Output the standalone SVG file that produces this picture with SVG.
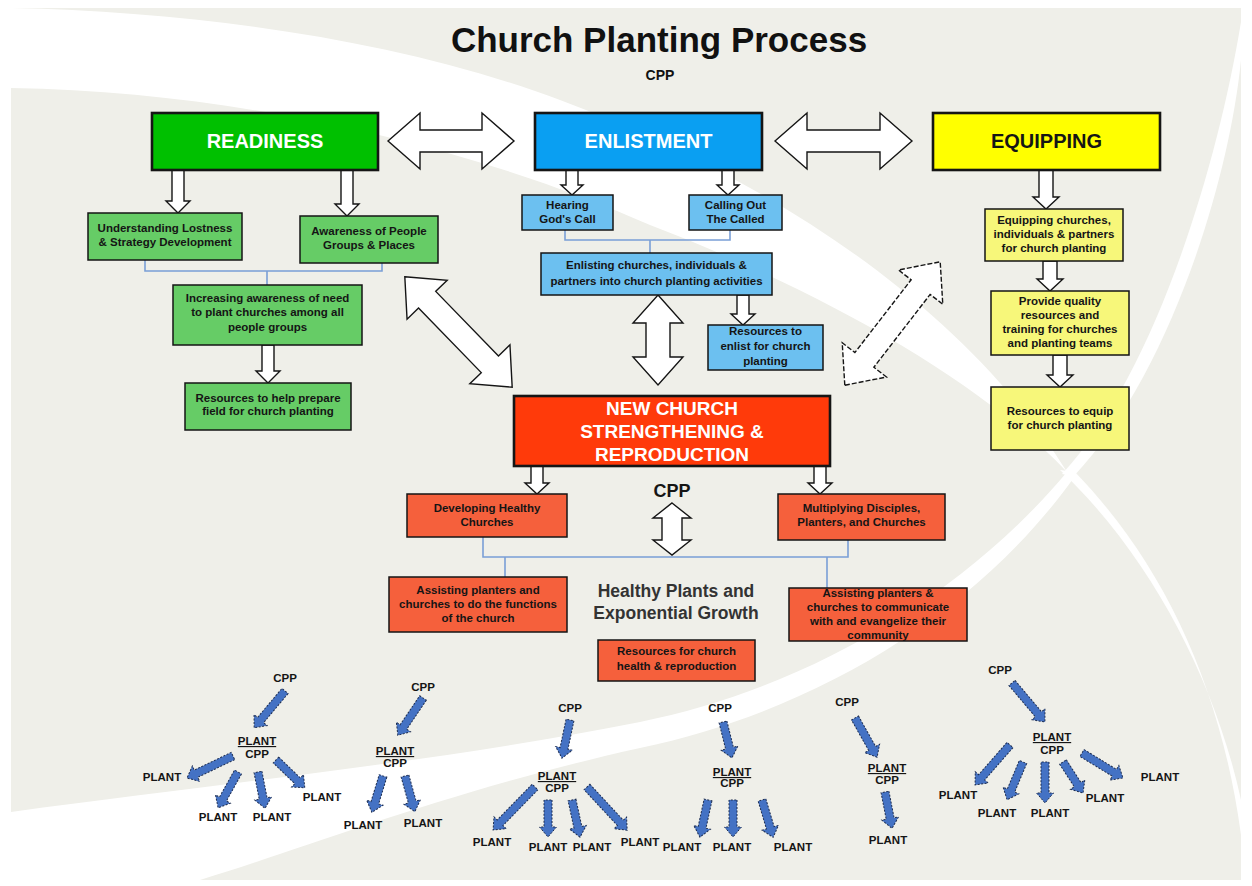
<svg xmlns="http://www.w3.org/2000/svg" width="1252" height="886" viewBox="0 0 1252 886">
<defs>
<style>
text{font-family:"Liberation Sans",Arial,sans-serif;text-anchor:middle}
.ttl{font-size:35px;font-weight:bold;fill:#111}
.sub{font-size:14px;font-weight:bold;fill:#111}
.mb{stroke:#151515;stroke-width:2.6}
.sb{stroke:#151515;stroke-width:1.5}
.mt{font-size:20px;font-weight:bold;fill:#fff}
.t{font-size:11.5px;font-weight:bold;fill:#151515}
.wa{fill:#fff;stroke:#151515;stroke-width:1.4;stroke-linejoin:miter}
.ba{fill:#4472c4;stroke:#1d2d50;stroke-width:1;stroke-dasharray:2 1.5}
.br{fill:none;stroke:#7a9fd6;stroke-width:1.6}
.lb{font-size:11.5px;font-weight:bold;fill:#151515}
.g1{fill:#00c000}.g2{fill:#66cc66}
.b1{fill:#0a9ff2}.b2{fill:#6cc0f0}
.y1{fill:#ffff00}.y2{fill:#f7f77a}
.r1{fill:#ff3a0a}.r2{fill:#f5603c}
</style>
</defs>
<rect width="1252" height="886" fill="#fff"/>
<rect x="11" y="8" width="1230" height="872" fill="#efefe9"/>
<g id="background" fill="#fff">
<path d="M11,8 C200,12 400,40 560,100 C760,175 960,300 1067,472 C980,380 820,290 650,225 C480,150 250,92 11,88 Z"/>
<path d="M1060,470 C1150,555 1215,680 1241,800 L1241,835 C1220,680 1160,560 1075,472 Z"/>
<path d="M1241,22 C1215,180 1150,380 1062,474 L1074,476 C1165,380 1228,190 1241,60 Z"/>
<path d="M1067,472 C960,600 800,690 640,722 C450,760 250,780 11,812 L11,880 L200,880 C300,850 450,790 640,748 C820,710 980,610 1075,476 Z"/>
</g>
<g id="title">
<text class="ttl" x="659" y="52">Church Planting Process</text>
<text class="sub" x="660" y="80">CPP</text>
</g>
<g id="connectors">
<polygon class="wa" points="388,141 420,113 420,130 482,130 482,113 514,141 482,169 482,152 420,152 420,169"/>
<polygon class="wa" points="775,141 807,113 807,130 880,130 880,113 912,141 880,169 880,152 807,152 807,169"/>
<polygon class="wa" points="172,170 184,170 184,201 190,201 178,213 166,201 172,201"/>
<polygon class="wa" points="341,170 353,170 353,204 359,204 347,216 335,204 341,204"/>
<polygon class="wa" points="262,345 274,345 274,371 280,371 268,383 256,371 262,371"/>
<polygon class="wa" points="566,170 578,170 578,185 583,185 572,195 561,185 566,185"/>
<polygon class="wa" points="722,170 734,170 734,185 739,185 728,195 717,185 722,185"/>
<polygon class="wa" points="737,295 749,295 749,314 755,314 743,325 731,314 737,314"/>
<polygon class="wa" points="1039,170 1053,170 1053,197 1059,197 1046,209 1033,197 1039,197"/>
<polygon class="wa" points="1043,261 1057,261 1057,279 1063,279 1050,291 1037,279 1043,279"/>
<polygon class="wa" points="1053,355 1067,355 1067,375 1073,375 1060,387 1047,375 1053,375"/>
<polygon class="wa" points="531,466 543,466 543,483 549,483 537,494 525,483 531,483"/>
<polygon class="wa" points="814,466 826,466 826,483 832,483 820,494 808,483 814,483"/>
<polygon class="wa" points="658,295 683,323 670,323 670,357 683,357 658,385 633,357 646,357 646,323 633,323"/>
<polygon class="wa" points="672,503 691,518 682,518 682,540 691,540 672,555 653,540 662,540 662,518 653,518"/>
<polygon class="wa" transform="translate(458.5,332) rotate(45.8)" points="-77,0 -45,-28 -45,-12 45,-12 45,-28 77,0 45,28 45,12 -45,12 -45,28"/>
<polygon class="wa" transform="translate(892.5,323.5) rotate(-52.3)" points="-78,0 -46,-28 -46,-12 46,-12 46,-28 78,0 46,28 46,12 -46,12 -46,28" stroke-dasharray="5 2"/>
<path class="br" d="M145,260 V271 H382 V263 M267,271 V285"/>
<path class="br" d="M565,230 V240 H730 V230 M650,240 V253"/>
<path class="br" d="M483,537 V557 H848 V540 M505,557 V577 M827,557 V588"/>
<polygon class="ba" transform="translate(285,691) rotate(130)" points="0,-4 38,-4 38,-8.5 48,0 38,8.5 38,4 0,4"/>
<polygon class="ba" transform="translate(233,756) rotate(154.4)" points="0,-4 41,-4 41,-8.5 51,0 41,8.5 41,4 0,4"/>
<polygon class="ba" transform="translate(238,772) rotate(119.1)" points="0,-4 31,-4 31,-8.5 41,0 31,8.5 31,4 0,4"/>
<polygon class="ba" transform="translate(258,772) rotate(79)" points="0,-4 27,-4 27,-8.5 37,0 27,8.5 27,4 0,4"/>
<polygon class="ba" transform="translate(276,760) rotate(44)" points="0,-4 30,-4 30,-8.5 40,0 30,8.5 30,4 0,4"/>
<polygon class="ba" transform="translate(423,698) rotate(124)" points="0,-4 35,-4 35,-8.5 45,0 35,8.5 35,4 0,4"/>
<polygon class="ba" transform="translate(383,776) rotate(107)" points="0,-4 28,-4 28,-8.5 38,0 28,8.5 28,4 0,4"/>
<polygon class="ba" transform="translate(405,776) rotate(74.5)" points="0,-4 27,-4 27,-8.5 37,0 27,8.5 27,4 0,4"/>
<polygon class="ba" transform="translate(570,720) rotate(101.9)" points="0,-4 29,-4 29,-8.5 39,0 29,8.5 29,4 0,4"/>
<polygon class="ba" transform="translate(535,787) rotate(134.3)" points="0,-4 50,-4 50,-8.5 60,0 50,8.5 50,4 0,4"/>
<polygon class="ba" transform="translate(548,800) rotate(90)" points="0,-4 27,-4 27,-8.5 37,0 27,8.5 27,4 0,4"/>
<polygon class="ba" transform="translate(572,800) rotate(77.8)" points="0,-4 28,-4 28,-8.5 38,0 28,8.5 28,4 0,4"/>
<polygon class="ba" transform="translate(587,787) rotate(47.1)" points="0,-4 49,-4 49,-8.5 59,0 49,8.5 49,4 0,4"/>
<polygon class="ba" transform="translate(723,722) rotate(76)" points="0,-4 27,-4 27,-8.5 37,0 27,8.5 27,4 0,4"/>
<polygon class="ba" transform="translate(708,800) rotate(102.2)" points="0,-4 28,-4 28,-8.5 38,0 28,8.5 28,4 0,4"/>
<polygon class="ba" transform="translate(733,800) rotate(90)" points="0,-4 27,-4 27,-8.5 37,0 27,8.5 27,4 0,4"/>
<polygon class="ba" transform="translate(762,800) rotate(73.4)" points="0,-4 29,-4 29,-8.5 39,0 29,8.5 29,4 0,4"/>
<polygon class="ba" transform="translate(855,718) rotate(60.6)" points="0,-4 35,-4 35,-8.5 45,0 35,8.5 35,4 0,4"/>
<polygon class="ba" transform="translate(885,792) rotate(79)" points="0,-4 27,-4 27,-8.5 37,0 27,8.5 27,4 0,4"/>
<polygon class="ba" transform="translate(1012,683) rotate(49.8)" points="0,-4 41,-4 41,-8.5 51,0 41,8.5 41,4 0,4"/>
<polygon class="ba" transform="translate(1010,745) rotate(131.2)" points="0,-4 43,-4 43,-8.5 53,0 43,8.5 43,4 0,4"/>
<polygon class="ba" transform="translate(1023,762) rotate(112.8)" points="0,-4 31,-4 31,-8.5 41,0 31,8.5 31,4 0,4"/>
<polygon class="ba" transform="translate(1045,762) rotate(90)" points="0,-4 31,-4 31,-8.5 41,0 31,8.5 31,4 0,4"/>
<polygon class="ba" transform="translate(1063,762) rotate(57.2)" points="0,-4 27,-4 27,-8.5 37,0 27,8.5 27,4 0,4"/>
<polygon class="ba" transform="translate(1082,753) rotate(31.4)" points="0,-4 38,-4 38,-8.5 48,0 38,8.5 38,4 0,4"/>
</g>
<g id="readiness"><rect class="mb g1" x="152" y="113" width="226" height="57"/><text class="mt" x="265" y="148">READINESS</text></g>
<g id="enlistment"><rect class="mb b1" x="535" y="113" width="227" height="57"/><text class="mt" x="648.5" y="148">ENLISTMENT</text></g>
<g id="equipping"><rect class="mb y1" x="933" y="113" width="227" height="57"/><text class="mt" x="1046.5" y="148" style="fill:#151515">EQUIPPING</text></g>
<g id="r-lostness"><rect class="sb g2" x="88" y="213" width="154" height="47"/><text class="t" x="165" y="232">Understanding Lostness</text><text class="t" x="165" y="246">&amp; Strategy Development</text></g>
<g id="r-awareness"><rect class="sb g2" x="300" y="216" width="138" height="47"/><text class="t" x="369" y="235">Awareness of People</text><text class="t" x="369" y="249">Groups &amp; Places</text></g>
<g id="r-increasing"><rect class="sb g2" x="173" y="285" width="189" height="60"/><text class="t" x="267.5" y="302">Increasing awareness of need</text><text class="t" x="267.5" y="316">to plant churches among all</text><text class="t" x="267.5" y="331">people groups</text></g>
<g id="r-resources"><rect class="sb g2" x="185" y="383" width="166" height="47"/><text class="t" x="268" y="402">Resources to help prepare</text><text class="t" x="268" y="415">field for church planting</text></g>
<g id="e-hearing"><rect class="sb b2" x="522" y="195" width="91" height="35"/><text class="t" x="567.5" y="209">Hearing</text><text class="t" x="567.5" y="223">God's Call</text></g>
<g id="e-calling"><rect class="sb b2" x="689" y="195" width="93" height="35"/><text class="t" x="735.5" y="209">Calling Out</text><text class="t" x="735.5" y="223">The Called</text></g>
<g id="e-enlisting"><rect class="sb b2" x="541" y="253" width="231" height="42"/><text class="t" x="656.5" y="269">Enlisting churches, individuals &amp;</text><text class="t" x="656.5" y="285">partners into church planting activities</text></g>
<g id="e-resources"><rect class="sb b2" x="708" y="325" width="115" height="45"/><text class="t" x="765.5" y="335">Resources to</text><text class="t" x="765.5" y="350">enlist for church</text><text class="t" x="765.5" y="365">planting</text></g>
<g id="q-equipping"><rect class="sb y2" x="985" y="209" width="138" height="52"/><text class="t" x="1054" y="224">Equipping churches,</text><text class="t" x="1054" y="238">individuals &amp; partners</text><text class="t" x="1054" y="252">for church planting</text></g>
<g id="q-provide"><rect class="sb y2" x="991" y="291" width="138" height="64"/><text class="t" x="1060" y="305">Provide quality</text><text class="t" x="1060" y="319">resources and</text><text class="t" x="1060" y="333">training for churches</text><text class="t" x="1060" y="347">and planting teams</text></g>
<g id="q-resources"><rect class="sb y2" x="991" y="387" width="138" height="63"/><text class="t" x="1060" y="415">Resources to equip</text><text class="t" x="1060" y="429">for church planting</text></g>
<g id="new-church"><rect class="mb r1" x="514" y="396" width="316" height="70"/><text class="mt" x="672" y="415" style="font-size:19px">NEW CHURCH</text><text class="mt" x="672" y="438" style="font-size:19px">STRENGTHENING &amp;</text><text class="mt" x="672" y="461" style="font-size:19px">REPRODUCTION</text></g>
<g id="cpp-center"><text x="672" y="497" style="font-size:18px;font-weight:bold;fill:#151515">CPP</text></g>
<g id="n-developing"><rect class="sb r2" x="407" y="494" width="160" height="43"/><text class="t" x="487" y="512">Developing Healthy</text><text class="t" x="487" y="526">Churches</text></g>
<g id="n-multiplying"><rect class="sb r2" x="778" y="494" width="167" height="46"/><text class="t" x="861.5" y="512">Multiplying Disciples,</text><text class="t" x="861.5" y="526">Planters, and Churches</text></g>
<g id="n-functions"><rect class="sb r2" x="389" y="577" width="178" height="55"/><text class="t" x="478" y="594">Assisting planters and</text><text class="t" x="478" y="608">churches to do the functions</text><text class="t" x="478" y="622">of the church</text></g>
<g id="n-communicate"><rect class="sb r2" x="789" y="588" width="178" height="53"/><text class="t" x="878" y="597">Assisting planters &amp;</text><text class="t" x="878" y="611">churches to communicate</text><text class="t" x="878" y="625">with and evangelize their</text><text class="t" x="878" y="639">community</text></g>
<g id="healthy-plants"><text x="676" y="597" style="font-size:17.5px;font-weight:bold;fill:#333">Healthy Plants and</text><text x="676" y="619" style="font-size:17.5px;font-weight:bold;fill:#333">Exponential Growth</text></g>
<g id="n-resources"><rect class="sb r2" x="598" y="640" width="157" height="41"/><text class="t" x="676.5" y="655">Resources for church</text><text class="t" x="676.5" y="670">health &amp; reproduction</text></g>
<g id="tree1">
<text class="lb" x="285" y="682">CPP</text>
<text class="lb" x="257" y="745" text-decoration="underline">PLANT</text>
<text class="lb" x="257" y="758">CPP</text>
<text class="lb" x="162" y="781">PLANT</text>
<text class="lb" x="218" y="821">PLANT</text>
<text class="lb" x="272" y="821">PLANT</text>
<text class="lb" x="322" y="801">PLANT</text>
</g>
<g id="tree2">
<text class="lb" x="423" y="691">CPP</text>
<text class="lb" x="395" y="755" text-decoration="underline">PLANT</text>
<text class="lb" x="395" y="767">CPP</text>
<text class="lb" x="363" y="829">PLANT</text>
<text class="lb" x="423" y="827">PLANT</text>
</g>
<g id="tree3">
<text class="lb" x="570" y="712">CPP</text>
<text class="lb" x="557" y="780" text-decoration="underline">PLANT</text>
<text class="lb" x="557" y="792">CPP</text>
<text class="lb" x="492" y="846">PLANT</text>
<text class="lb" x="548" y="851">PLANT</text>
<text class="lb" x="592" y="851">PLANT</text>
<text class="lb" x="640" y="846">PLANT</text>
</g>
<g id="tree4">
<text class="lb" x="720" y="712">CPP</text>
<text class="lb" x="732" y="776" text-decoration="underline">PLANT</text>
<text class="lb" x="732" y="787">CPP</text>
<text class="lb" x="682" y="851">PLANT</text>
<text class="lb" x="732" y="851">PLANT</text>
<text class="lb" x="793" y="851">PLANT</text>
</g>
<g id="tree5">
<text class="lb" x="847" y="706">CPP</text>
<text class="lb" x="887" y="772" text-decoration="underline">PLANT</text>
<text class="lb" x="887" y="784">CPP</text>
<text class="lb" x="888" y="844">PLANT</text>
</g>
<g id="tree6">
<text class="lb" x="1000" y="674">CPP</text>
<text class="lb" x="1052" y="741" text-decoration="underline">PLANT</text>
<text class="lb" x="1052" y="754">CPP</text>
<text class="lb" x="958" y="799">PLANT</text>
<text class="lb" x="997" y="817">PLANT</text>
<text class="lb" x="1050" y="817">PLANT</text>
<text class="lb" x="1105" y="802">PLANT</text>
<text class="lb" x="1160" y="781">PLANT</text>
</g>
</svg>
